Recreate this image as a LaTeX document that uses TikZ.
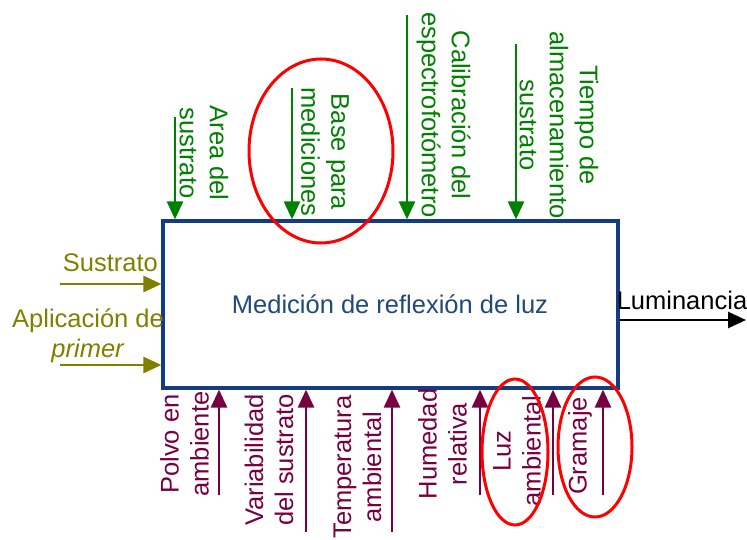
\documentclass[tikz,border=0pt]{standalone}
\usepackage{fontspec}
\setmainfont{Liberation Sans}
\usetikzlibrary{arrows.meta}
\definecolor{verde}{RGB}{0,128,0}
\definecolor{oliva}{RGB}{128,128,0}
\definecolor{morado}{RGB}{118,0,64}
\definecolor{azul}{RGB}{20,60,130}
\definecolor{azultexto}{RGB}{31,73,125}

\begin{document}
\begin{tikzpicture}[x=1pt,y=1pt,font=\fontsize{25.5}{30}\selectfont,
        flecha/.style={line width=2.6pt,-{Triangle[length=18pt,width=16pt]}},
        marca/.style={draw=red,line width=3pt}]
        \useasboundingbox (0,0) rectangle (747,-540);
        \node[draw=azul,line width=3.2pt,minimum width=455pt,minimum height=167pt] (proc) at (390.5,-304.5) {};
        \node[text=azultexto] (titulo) at (390,-304) {Medici\'on de reflexi\'on de luz};
        % entradas
        \node[text=oliva,anchor=east,inner sep=0pt] (e1) at (158,-263) {Sustrato};
        \node[text=oliva,align=center,inner sep=0pt] (e2) at (88,-336) {Aplicaci\'on de\\\textit{primer}};
        \coordinate (ie1) at (60,-284);
        \coordinate (ie2) at (60,-365);
        \draw[flecha,oliva] (ie1) -- (ie1 -| proc.west);
        \draw[flecha,oliva] (ie2) -- (ie2 -| proc.west);
        % salida
        \node[inner sep=0pt] (s1) at (682,-300) {Luminancia};
        \coordinate (fs1) at (746,-320);
        \draw[flecha,black] (fs1 -| proc.east) -- (fs1);
        % controles
        \node[text=verde,rotate=-90,align=center,inner sep=0pt] (c1) at (204,-153) {Area del\\sustrato};
        \node[text=verde,rotate=-90,align=center,inner sep=0pt] (c2) at (325,-152) {Base para\\mediciones};
        \node[text=verde,rotate=-90,align=center,inner sep=0pt] (c3) at (443.5,-115) {Calibraci\'on del\\espectrofot\'ometro};
        \node[text=verde,rotate=-90,align=center,inner sep=0pt] (c4) at (559,-125) {Tiempo de\\almacenamiento\\sustrato};
        \coordinate (ic1) at (175,-117);
        \coordinate (ic2) at (292,-88);
        \coordinate (ic3) at (407,-15);
        \coordinate (ic4) at (516,-44);
        \foreach \c in {ic1,ic2,ic3,ic4}
            \draw[flecha,verde] (\c) -- (\c |- proc.north);
        % ruido
        \node[text=morado,rotate=90,align=center,inner sep=0pt] (r1) at (184.5,-444) {Polvo en\\ambiente};
        \node[text=morado,rotate=90,align=center,inner sep=0pt] (r2) at (269,-460) {Variabilidad\\del sustrato};
        \node[text=morado,rotate=90,align=center,inner sep=0pt] (r3) at (357.5,-467) {Temperatura\\ambiental};
        \node[text=morado,rotate=90,align=center,inner sep=0pt] (r4) at (442.5,-444) {Humedad\\relativa};
        \node[text=morado,rotate=90,align=center,inner sep=0pt] (r5) at (517,-451) {Luz\\ambiental};
        \node[text=morado,rotate=90,align=center,inner sep=0pt] (r6) at (580,-446) {Gramaje};
        \coordinate (ir1) at (219,-495);
        \coordinate (ir2) at (306,-532);
        \coordinate (ir3) at (392,-532);
        \coordinate (ir4) at (480,-495);
        \coordinate (ir5) at (553,-495);
        \coordinate (ir6) at (603,-495);
        \foreach \r in {ir1,ir2,ir3,ir4,ir5,ir6}
            \draw[flecha,morado] (\r) -- (\r |- proc.south);
        % marcas rojas
        \draw[marca] (321,-151) ellipse [x radius=72,y radius=92];
        \draw[marca] (515,-452) ellipse [x radius=33,y radius=73];
        \draw[marca] (595,-447) ellipse [x radius=37,y radius=70];
\end{tikzpicture}
\end{document}
